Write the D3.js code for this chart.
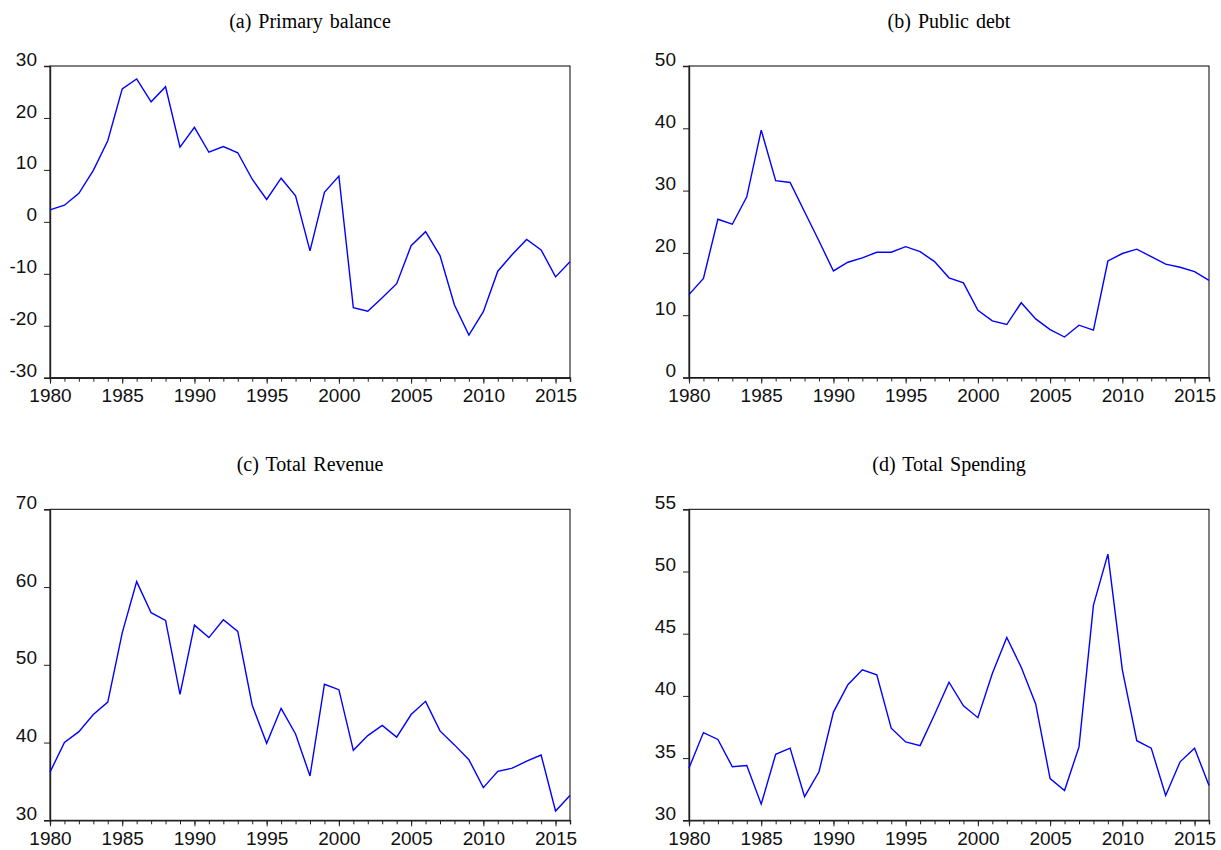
<!DOCTYPE html>
<html><head><meta charset="utf-8">
<script src="https://cdn.jsdelivr.net/npm/d3@7/dist/d3.min.js"></script>
<style>body{margin:0;background:#fff}</style>
</head><body>
<svg id="chart" width="1221" height="850"></svg>
<script>
const years = [1980,1981,1982,1983,1984,1985,1986,1987,1988,1989,1990,1991,1992,1993,1994,1995,1996,1997,1998,1999,2000,2001,2002,2003,2004,2005,2006,2007,2008,2009,2010,2011,2012,2013,2014,2015,2016];
const xTickLabels = [1980,1985,1990,1995,2000,2005,2010,2015];

const primaryBalance = [2.3,3.2,5.5,9.9,15.6,25.6,27.5,23.1,26.0,14.4,18.2,13.4,14.5,13.3,8.2,4.3,8.4,5.0,-5.6,5.7,8.8,-16.5,-17.2,-14.6,-11.9,-4.6,-1.9,-6.5,-16.0,-21.8,-17.3,-9.5,-6.3,-3.4,-5.4,-10.6,-7.7];
const publicDebt = [13.3,15.9,25.4,24.6,29.0,39.7,31.6,31.3,26.6,21.9,17.1,18.5,19.2,20.1,20.1,21.0,20.2,18.6,16.0,15.2,10.8,9.1,8.5,12.0,9.4,7.7,6.5,8.4,7.6,18.7,19.9,20.6,19.4,18.2,17.7,17.0,15.6];
const totalRevenue = [36.2,40.0,41.4,43.6,45.2,54.1,60.7,56.7,55.7,46.2,55.1,53.5,55.8,54.3,44.8,39.9,44.4,41.1,35.7,47.5,46.8,39.0,40.9,42.2,40.7,43.6,45.3,41.5,39.7,37.8,34.2,36.3,36.7,37.6,38.4,31.2,33.2];
const totalSpending = [34.2,37.05,36.5,34.3,34.4,31.3,35.3,35.8,31.9,33.9,38.7,40.9,42.1,41.7,37.4,36.3,36.0,38.5,41.1,39.2,38.25,41.8,44.7,42.3,39.35,33.35,32.4,35.9,47.3,51.4,42.1,36.4,35.8,32.0,34.7,35.8,32.8];

const titles = ["(a) Primary balance","(b) Public debt","(c) Total Revenue","(d) Total Spending"];
const yTicksA = [-30,-20,-10,0,10,20,30];
const yTicksB = [0,10,20,30,40,50];
const yTicksC = [30,40,50,60,70];
const yTicksD = [30,35,40,45,50,55];

const panels = [
  {title: titles[0], values: primaryBalance, ticks: yTicksA, left: 50,  top: 66,    bottom: 377.7},
  {title: titles[1], values: publicDebt,     ticks: yTicksB, left: 689, top: 66,    bottom: 377.5},
  {title: titles[2], values: totalRevenue,   ticks: yTicksC, left: 50,  top: 509.3, bottom: 820.3},
  {title: titles[3], values: totalSpending,  ticks: yTicksD, left: 689, top: 509.3, bottom: 820.3}
];
const W = 520;
const fmt = d => String(d);

const svg = d3.select("#chart");

panels.forEach(p => {
  const g = svg.append("g");
  const x = d3.scaleLinear().domain([years[0], years[years.length-1]]).range([p.left, p.left + W]);
  const y = d3.scaleLinear().domain([d3.min(p.ticks), d3.max(p.ticks)]).range([p.bottom, p.top]);

  // title
  g.append("text")
    .attr("x", p.left + W/2)
    .attr("y", p.top - 38)
    .attr("text-anchor", "middle")
    .attr("font-family", "'Liberation Serif','Times New Roman',serif")
    .attr("font-size", 20)
    .attr("word-spacing", 2)
    .attr("fill", "#000")
    .text(p.title);

  // frame
  g.append("rect")
    .attr("x", p.left).attr("y", p.top)
    .attr("width", W).attr("height", p.bottom - p.top)
    .attr("fill", "none").attr("stroke", "#000").attr("stroke-width", 1);

  // y axis
  const yAxis = d3.axisLeft(y).tickValues(p.ticks).tickSize(6).tickPadding(7).tickFormat(fmt);
  const ya = g.append("g").attr("transform", `translate(${p.left},0)`).call(yAxis);
  ya.select(".domain").attr("stroke", "#222").attr("stroke-width", 1.4);
  ya.selectAll(".tick line").attr("stroke", "#222");
  ya.selectAll(".tick text")
    .attr("font-family", "'Liberation Sans',Arial,sans-serif")
    .attr("font-size", 19)
    .attr("fill", "#111")
    .attr("dy", "-0.05em");

  // x axis minor ticks (every year)
  const xMinor = d3.axisBottom(x).tickValues(years).tickSize(4).tickFormat("");
  const xm = g.append("g").attr("transform", `translate(0,${p.bottom})`).call(xMinor);
  xm.select(".domain").attr("stroke", "#222").attr("stroke-width", 1.4);
  xm.selectAll(".tick line").attr("stroke", "#222");

  // x axis major ticks
  const xMajor = d3.axisBottom(x).tickValues(xTickLabels).tickSize(6).tickPadding(5).tickFormat(fmt);
  const xj = g.append("g").attr("transform", `translate(0,${p.bottom})`).call(xMajor);
  xj.select(".domain").remove();
  xj.selectAll(".tick line").attr("stroke", "#222");
  xj.selectAll(".tick text")
    .attr("font-family", "'Liberation Sans',Arial,sans-serif")
    .attr("font-size", 19)
    .attr("fill", "#111");

  // line
  const line = d3.line().x((d,i) => x(years[i])).y(d => y(d));
  g.append("path")
    .datum(p.values)
    .attr("d", line)
    .attr("fill", "none")
    .attr("stroke", "#0000ff")
    .attr("stroke-width", 1.4)
    .attr("stroke-linejoin", "miter");
});
</script>
</body></html>
